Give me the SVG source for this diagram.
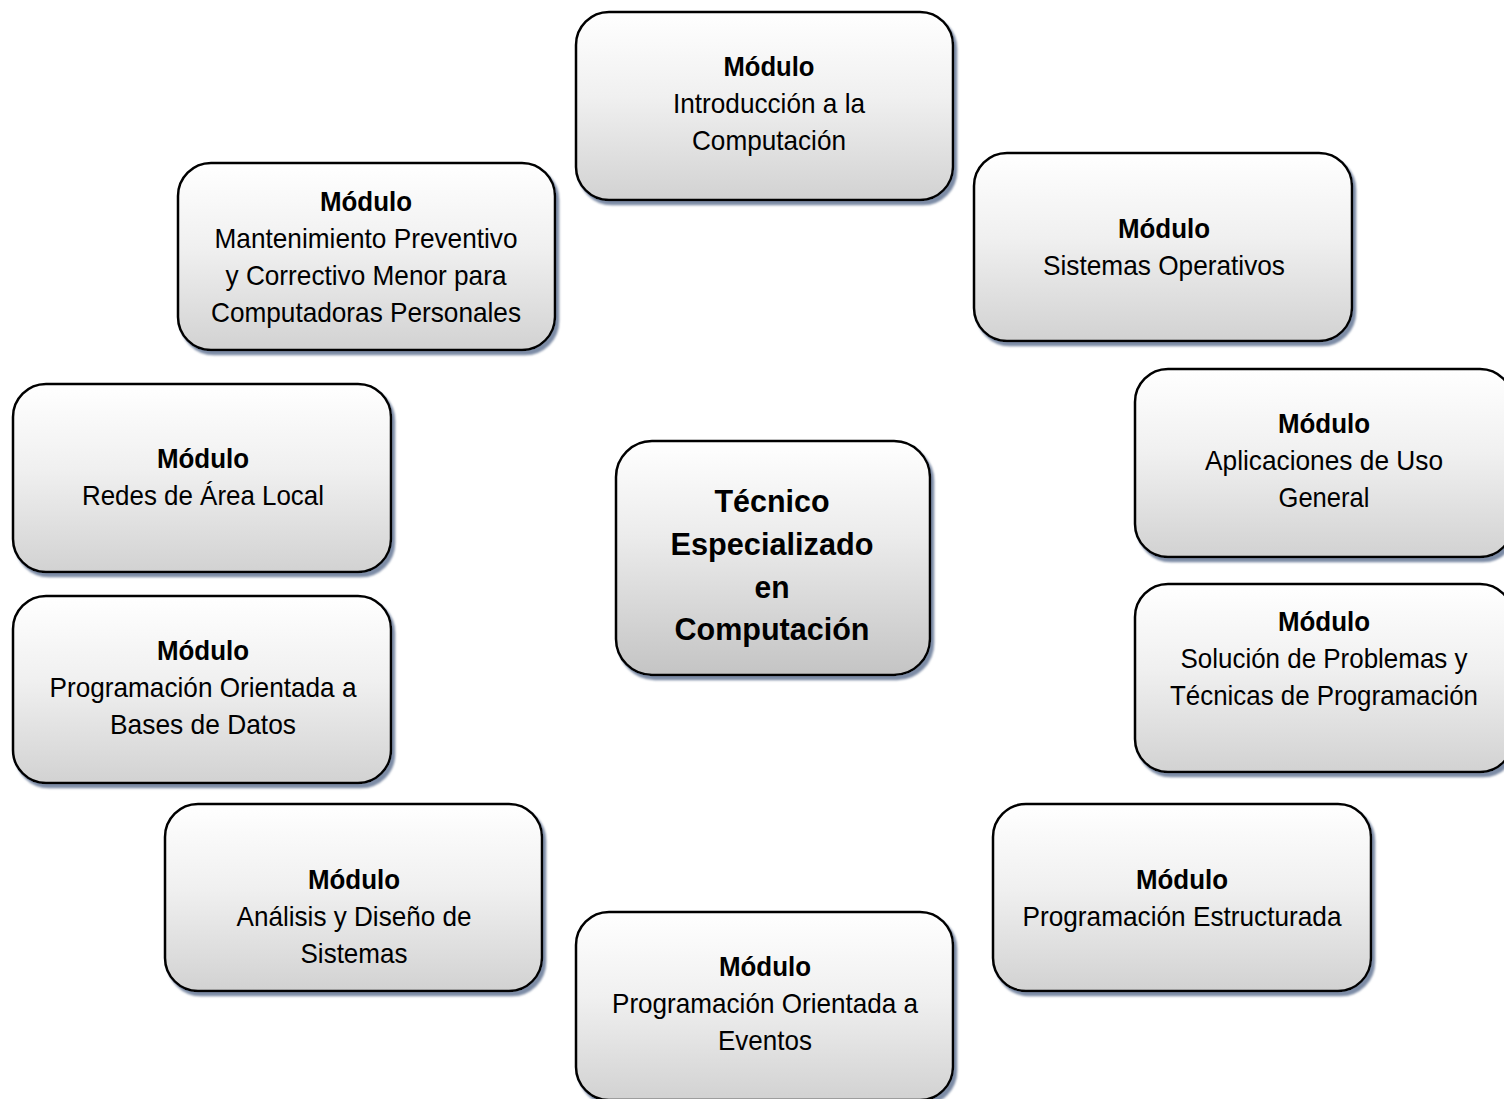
<svg xmlns="http://www.w3.org/2000/svg" width="1504" height="1099" viewBox="0 0 1504 1099">
<defs>
<linearGradient id="g" x1="0" y1="0" x2="0" y2="1">
<stop offset="0" stop-color="#ffffff"/>
<stop offset="0.45" stop-color="#f0f0f0"/>
<stop offset="1" stop-color="#d2d2d2"/>
</linearGradient>
<linearGradient id="gc" x1="0" y1="0" x2="0" y2="1">
<stop offset="0" stop-color="#ffffff"/>
<stop offset="0.4" stop-color="#ececec"/>
<stop offset="1" stop-color="#c4c4c4"/>
</linearGradient>
<filter id="sh" x="-10%" y="-10%" width="120%" height="120%">
<feGaussianBlur in="SourceAlpha" stdDeviation="1.2" result="b"/>
<feOffset in="b" dx="3" dy="3.5" result="o"/>
<feFlood flood-color="#7d8ca6"/>
<feComposite in2="o" operator="in" result="s"/>
<feMerge><feMergeNode in="s"/><feMergeNode in="SourceGraphic"/></feMerge>
</filter>
</defs>
<style>
.box{fill:url(#g);stroke:#000;stroke-width:2.5;filter:url(#sh)}
.cbox{fill:url(#gc);stroke:#000;stroke-width:2.5;filter:url(#sh)}
text{font-family:"Liberation Sans",Arial,sans-serif;fill:#000;text-anchor:middle}
.t{font-size:28px}
.b{font-size:28px;font-weight:bold}
.c{font-size:32px;font-weight:bold}
</style>
<rect width="1504" height="1099" fill="#ffffff"/>
<g id="connectors"></g>

<g id="n1">
<rect class="box" x="576" y="12" width="377" height="188" rx="33"/>
<text class="b" x="769" y="76" textLength="91" lengthAdjust="spacingAndGlyphs">Módulo</text>
<text class="t" x="769" y="113" textLength="192" lengthAdjust="spacingAndGlyphs">Introducción a la</text>
<text class="t" x="769" y="150" textLength="154" lengthAdjust="spacingAndGlyphs">Computación</text>
</g>

<g id="n2">
<rect class="box" x="974" y="153" width="378" height="188" rx="33"/>
<text class="b" x="1164" y="238" textLength="92" lengthAdjust="spacingAndGlyphs">Módulo</text>
<text class="t" x="1164" y="275" textLength="242" lengthAdjust="spacingAndGlyphs">Sistemas Operativos</text>
</g>

<g id="n3">
<rect class="box" x="1135" y="369" width="378" height="188" rx="33"/>
<text class="b" x="1324" y="433" textLength="92" lengthAdjust="spacingAndGlyphs">Módulo</text>
<text class="t" x="1324" y="470" textLength="238" lengthAdjust="spacingAndGlyphs">Aplicaciones de Uso</text>
<text class="t" x="1324" y="507" textLength="91" lengthAdjust="spacingAndGlyphs">General</text>
</g>

<g id="n4">
<rect class="box" x="1135" y="584" width="378" height="188" rx="33"/>
<text class="b" x="1324" y="631" textLength="92" lengthAdjust="spacingAndGlyphs">Módulo</text>
<text class="t" x="1324" y="668" textLength="287" lengthAdjust="spacingAndGlyphs">Solución de Problemas y</text>
<text class="t" x="1324" y="705" textLength="308" lengthAdjust="spacingAndGlyphs">Técnicas de Programación</text>
</g>

<g id="n5">
<rect class="box" x="993" y="804" width="378" height="187" rx="33"/>
<text class="b" x="1182" y="889" textLength="92" lengthAdjust="spacingAndGlyphs">Módulo</text>
<text class="t" x="1182" y="926" textLength="319" lengthAdjust="spacingAndGlyphs">Programación Estructurada</text>
</g>

<g id="n6">
<rect class="box" x="576" y="912" width="377" height="188" rx="33"/>
<text class="b" x="765" y="976" textLength="92" lengthAdjust="spacingAndGlyphs">Módulo</text>
<text class="t" x="765" y="1013" textLength="306" lengthAdjust="spacingAndGlyphs">Programación Orientada a</text>
<text class="t" x="765" y="1050" textLength="94" lengthAdjust="spacingAndGlyphs">Eventos</text>
</g>

<g id="n7">
<rect class="box" x="165" y="804" width="377" height="187" rx="33"/>
<text class="b" x="354" y="889" textLength="92" lengthAdjust="spacingAndGlyphs">Módulo</text>
<text class="t" x="354" y="926" textLength="235" lengthAdjust="spacingAndGlyphs">Análisis y Diseño de</text>
<text class="t" x="354" y="963" textLength="107" lengthAdjust="spacingAndGlyphs">Sistemas</text>
</g>

<g id="n8">
<rect class="box" x="13" y="596" width="378" height="187" rx="33"/>
<text class="b" x="203" y="660" textLength="92" lengthAdjust="spacingAndGlyphs">Módulo</text>
<text class="t" x="203" y="697" textLength="307" lengthAdjust="spacingAndGlyphs">Programación Orientada a</text>
<text class="t" x="203" y="734" textLength="186" lengthAdjust="spacingAndGlyphs">Bases de Datos</text>
</g>

<g id="n9">
<rect class="box" x="13" y="384" width="378" height="188" rx="33"/>
<text class="b" x="203" y="468" textLength="92" lengthAdjust="spacingAndGlyphs">Módulo</text>
<text class="t" x="203" y="505" textLength="242" lengthAdjust="spacingAndGlyphs">Redes de Área Local</text>
</g>

<g id="n10">
<rect class="box" x="178" y="163" width="377" height="187" rx="33"/>
<text class="b" x="366" y="211" textLength="92" lengthAdjust="spacingAndGlyphs">Módulo</text>
<text class="t" x="366" y="248" textLength="303" lengthAdjust="spacingAndGlyphs">Mantenimiento Preventivo</text>
<text class="t" x="366" y="285" textLength="281" lengthAdjust="spacingAndGlyphs">y Correctivo Menor para</text>
<text class="t" x="366" y="322" textLength="310" lengthAdjust="spacingAndGlyphs">Computadoras Personales</text>
</g>

<g id="center">
<rect class="cbox" x="616" y="441" width="314" height="234" rx="36"/>
<text class="c" x="772" y="512" textLength="115" lengthAdjust="spacingAndGlyphs">Técnico</text>
<text class="c" x="772" y="555" textLength="203" lengthAdjust="spacingAndGlyphs">Especializado</text>
<text class="c" x="772" y="598" textLength="35" lengthAdjust="spacingAndGlyphs">en</text>
<text class="c" x="772" y="640" textLength="195" lengthAdjust="spacingAndGlyphs">Computación</text>
</g>
</svg>
